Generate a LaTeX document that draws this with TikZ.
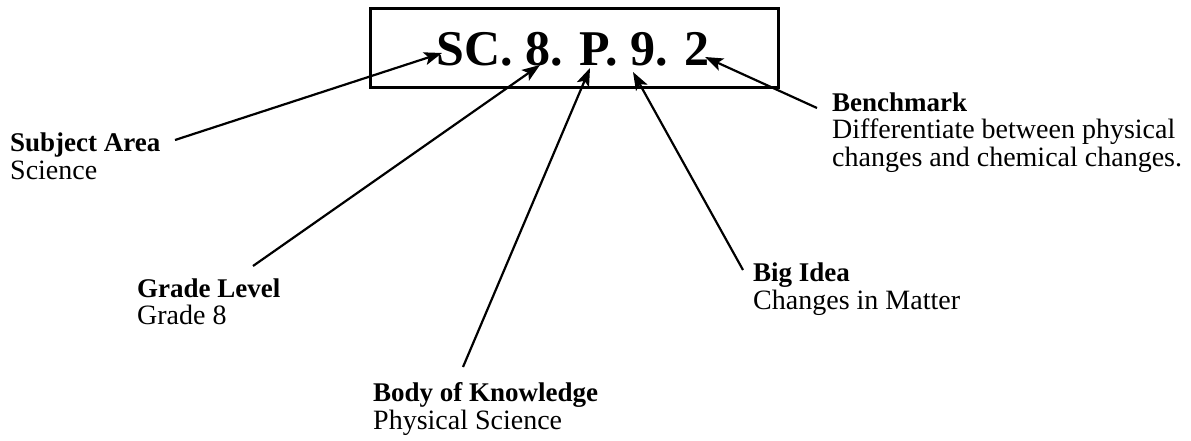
\documentclass[tikz,border=0pt]{standalone}
\usepackage{fontspec}
\setmainfont{Liberation Serif}
\usetikzlibrary{arrows.meta}
\begin{document}
\begin{tikzpicture}[x=1pt,y=-1pt,
  lbl/.style={anchor=base west,inner sep=0pt,font=\fontsize{28}{30}\selectfont},
  hd/.style={anchor=base west,inner sep=0pt,font=\fontsize{27}{29}\selectfont\bfseries},
  ptr/.style={line width=2.2pt,-{Stealth[length=18pt,width=13pt,inset=4pt]}},
  codebox/.style={draw,line width=2.6pt,inner sep=0pt}]
\useasboundingbox (0,0) rectangle (1191,441);
\node[codebox,minimum width=408pt,minimum height=79pt,anchor=north west] (box) at (369,7) {};
\node[anchor=base,inner sep=0pt,font=\fontsize{50}{52}\selectfont\bfseries] (code) at (573,66) {SC. 8. P. 9. 2};
% targets
\coordinate (tSC) at (442,53);
\coordinate (t8) at (540,65);
\coordinate (tP) at (590,68);
\coordinate (t9) at (633,72);
\coordinate (t2) at (705,57);
% labels
\node[hd] (sa) at (10,152) {Subject Area};
\node[lbl] (sad) at (10,179) {Science};
\node[hd] (bm) at (832,112) {Benchmark};
\node[lbl] (bmd1) at (832,139) {Differentiate between physical};
\node[lbl] (bmd2) at (832,166) {changes and chemical changes.};
\node[hd] (gl) at (137,297) {Grade Level};
\node[lbl] (gld) at (137,324) {Grade 8};
\node[hd] (bi) at (753,281) {Big Idea};
\node[lbl] (bid) at (753,309) {Changes in Matter};
\node[hd] (bk) at (373,401) {Body of Knowledge};
\node[lbl] (bkd) at (373,429) {Physical Science};
% tails
\coordinate (sSA) at (175,140);
\coordinate (sGL) at (253,266);
\coordinate (sBK) at (463,367);
\coordinate (sBI) at (743,270);
\coordinate (sBM) at (817,108);
\draw[ptr] (sSA) -- (tSC);
\draw[ptr] (sGL) -- (t8);
\draw[ptr] (sBK) -- (tP);
\draw[ptr] (sBI) -- (t9);
\draw[ptr] (sBM) -- (t2);
\end{tikzpicture}
\end{document}
